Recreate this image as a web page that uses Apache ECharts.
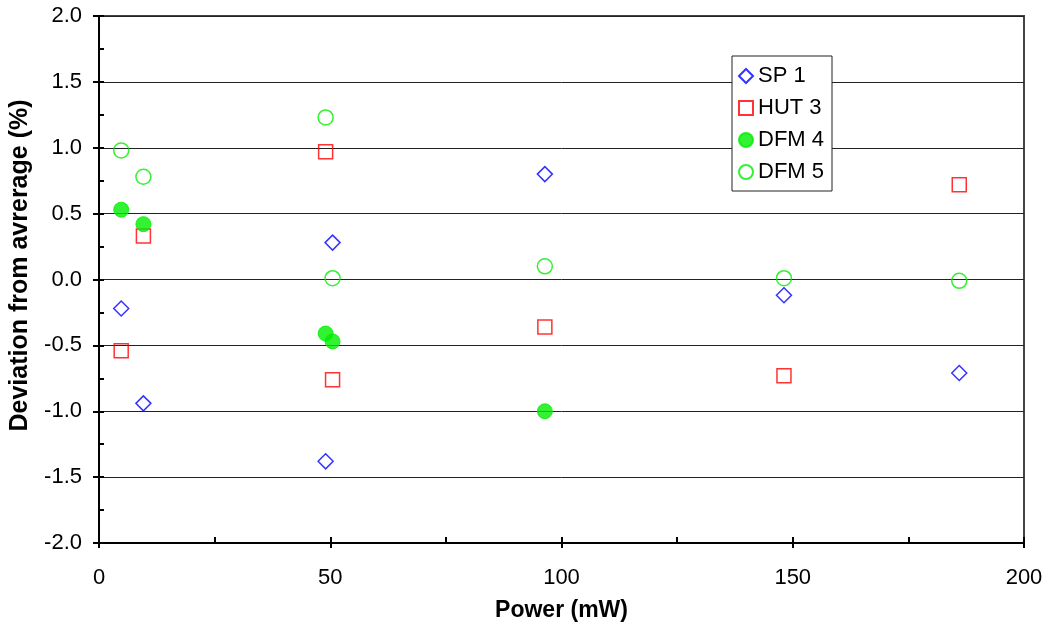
<!DOCTYPE html>
<html>
<head>
<meta charset="utf-8">
<script src="https://cdn.jsdelivr.net/npm/echarts@6/dist/echarts.min.js"></script>
<style>html,body{margin:0;padding:0;background:#fff}#c{width:1048px;height:630px}</style>
</head>
<body>
<div id="c"></div>
<script>
const xTitle = 'Power (mW)';
const yTitle = 'Deviation from avrerage (%)';
const powerAll = [4.8, 9.6, 49.0, 50.5, 96.4, 148.1, 186.0];
const powerDFM4 = [4.8, 9.6, 49.0, 50.5, 96.4];
const sp1 = [-0.22, -0.94, -1.38, 0.28, 0.80, -0.12, -0.71];
const hut3 = [-0.54, 0.33, 0.97, -0.76, -0.36, -0.73, 0.72];
const dfm4 = [0.53, 0.42, -0.41, -0.47, -1.00];
const dfm5 = [0.98, 0.78, 1.23, 0.01, 0.10, 0.01, -0.01];
const seriesNames = ['SP 1', 'HUT 3', 'DFM 4', 'DFM 5'];

const pair = (xs, ys) => xs.map((x, i) => [x, ys[i]]);
const FONT = 'Liberation Sans, Arial, sans-serif';

const chart = echarts.init(document.getElementById('c'), null, {renderer: 'canvas'});
const axisCommon = {type: 'value', splitLine: {show: false}};
chart.setOption({
  animation: false,
  backgroundColor: '#fff',
  grid: {left: 98, right: 24, top: 16, bottom: 87, show: true, borderColor: '#444', borderWidth: 2, backgroundColor: 'transparent'},
  legend: {
    orient: 'vertical', left: 732, top: 56,
    padding: [9, 8, 8, 6],
    itemWidth: 14, itemHeight: 14, itemGap: 10,
    backgroundColor: '#fff', borderColor: '#222', borderWidth: 1, borderRadius: 0,
    textStyle: {fontFamily: FONT, fontSize: 22, color: '#000'},
    data: seriesNames
  },
  xAxis: [
    Object.assign({}, axisCommon, {
      min: 0, max: 200, interval: 50, position: 'bottom',
      name: xTitle, nameLocation: 'middle', nameGap: 56,
      nameTextStyle: {fontFamily: FONT, fontSize: 23, fontWeight: 'bold', color: '#000'},
      axisLine: {show: true, onZero: false, lineStyle: {color: '#000', width: 2}},
      axisTick: {show: true, inside: false, length: 5, lineStyle: {color: '#000', width: 2}},
      axisLabel: {fontFamily: FONT, fontSize: 22, color: '#000', margin: 24}
    }),
    Object.assign({}, axisCommon, {
      min: 0, max: 200, interval: 50, position: 'bottom',
      axisLine: {show: false, onZero: false},
      axisTick: {show: true, inside: true, length: 6, lineStyle: {color: '#000', width: 2}},
      minorTick: {show: true, splitNumber: 2, length: 6, lineStyle: {color: '#000', width: 2}},
      axisLabel: {show: false}
    })
  ],
  yAxis: [
    Object.assign({}, axisCommon, {
      min: -2, max: 2, interval: 0.5, position: 'left',
      name: yTitle, nameLocation: 'middle', nameGap: 66, nameRotate: 90,
      nameTextStyle: {fontFamily: FONT, fontSize: 25, fontWeight: 'bold', color: '#000', padding: [0, 0, 0, 28]},
      axisLine: {show: true, onZero: false, lineStyle: {color: '#000', width: 2}},
      axisTick: {show: true, inside: false, length: 6, lineStyle: {color: '#000', width: 2}},
      splitLine: {show: true, lineStyle: {color: '#222', width: 1}},
      axisLabel: {fontFamily: FONT, fontSize: 22, color: '#000', margin: 17, formatter: v => v.toFixed(1)}
    }),
    Object.assign({}, axisCommon, {
      min: -2, max: 2, interval: 0.5, position: 'left',
      axisLine: {show: false, onZero: false},
      axisTick: {show: true, inside: true, length: 5, lineStyle: {color: '#000', width: 2}},
      minorTick: {show: true, splitNumber: 2, length: 5, lineStyle: {color: '#000', width: 2}},
      axisLabel: {show: false}
    })
  ],
  series: [
    {name: seriesNames[0], type: 'scatter', symbol: 'diamond', symbolSize: 15,
     itemStyle: {color: 'transparent', borderColor: '#0000ff', borderWidth: 1.5},
     data: pair(powerAll, sp1)},
    {name: seriesNames[1], type: 'scatter', symbol: 'rect', symbolSize: 14,
     itemStyle: {color: 'transparent', borderColor: '#ff0000', borderWidth: 1.5},
     data: pair(powerAll, hut3)},
    {name: seriesNames[2], type: 'scatter', symbol: 'circle', symbolSize: 15,
     itemStyle: {color: '#00ee00', borderColor: '#00ee00', borderWidth: 1},
     data: pair(powerDFM4, dfm4)},
    {name: seriesNames[3], type: 'scatter', symbol: 'circle', symbolSize: 15,
     itemStyle: {color: 'transparent', borderColor: '#00ee00', borderWidth: 1.5},
     data: pair(powerAll, dfm5)}
  ]
});
</script>
</body>
</html>
